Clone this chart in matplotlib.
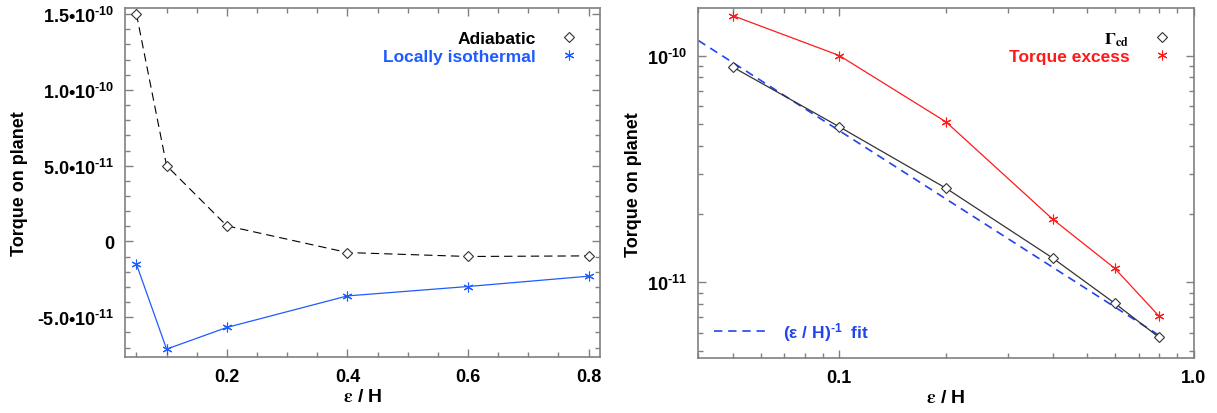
import numpy as np
import matplotlib
matplotlib.use('Agg')
import matplotlib.pyplot as plt
from matplotlib.lines import Line2D
from matplotlib.ticker import FixedLocator, NullFormatter

plt.rcParams['font.family'] = ['Liberation Sans', 'DejaVu Sans']
plt.rcParams['font.weight'] = 'bold'
plt.rcParams['mathtext.fontset'] = 'custom'
plt.rcParams['mathtext.rm'] = 'Liberation Sans:bold'
plt.rcParams['mathtext.bf'] = 'Liberation Sans:bold'
plt.rcParams['mathtext.it'] = 'Liberation Sans:bold:italic'
plt.rcParams['mathtext.default'] = 'rm'

# data
eps = [0.05, 0.1, 0.2, 0.4, 0.6, 0.8]
adiabatic = [1.50e-10, 5.0e-11, 1.03e-11, -0.73e-11, -0.99e-11, -0.95e-11]
isothermal = [-1.5e-11, -7.1e-11, -5.67e-11, -3.59e-11, -2.97e-11, -2.29e-11]

gamma_cd = [8.9e-11, 4.85e-11, 2.6e-11, 1.28e-11, 8.07e-12, 5.71e-12]
torque_excess = [1.5e-10, 1.0e-10, 5.1e-11, 1.9e-11, 1.15e-11, 7.08e-12]
fit_x = [0.04, 0.8]
fit_y = [1.165e-10, 5.83e-12]

left_xticks = [0.2, 0.4, 0.6, 0.8]
left_xlabels = ['0.2', '0.4', '0.6', '0.8']
left_yticks = [1.5e-10, 1.0e-10, 5.0e-11, 0, -5.0e-11]
left_ylabels = [r'1.5•10$^{\text{-10}}$', r'1.0•10$^{\text{-10}}$', r'5.0•10$^{\text{-11}}$',
                '0', r'-5.0•10$^{\text{-11}}$']
right_xticks = [0.1, 1.0]
right_xlabels = ['0.1', '1.0']
right_yticks = [1e-10, 1e-11]
right_ylabels = [r'10$^{\text{-10}}$', r'10$^{\text{-11}}$']

blue = '#1f5cff'
red = '#ff1a1a'
fitblue = '#2244ee'
frame = '#808080'
asterisk = (6, 2, 0)

W, H = 1217, 414
fig = plt.figure(figsize=(W / 100, H / 100), dpi=100)
ax1 = fig.add_axes([125 / W, 1 - 357.7 / H, (600 - 125) / W, (357.7 - 9.3) / H])
ax2 = fig.add_axes([698.3 / W, 1 - 359.3 / H, (1193.5 - 698.3) / W, (359.3 - 9) / H])


def style_axes(ax):
    for s in ax.spines.values():
        s.set_color(frame)
        s.set_linewidth(1.2)
    ax.tick_params(which='both', direction='in', top=True, right=True,
                   color=frame, width=1.0, labelsize=13, pad=8)
    ax.tick_params(which='major', length=6)
    ax.tick_params(which='minor', length=3.5)
    for lab in ax.get_xticklabels() + ax.get_yticklabels():
        lab.set_fontweight('bold')


# left panel
ax1.plot(eps, adiabatic, color='black', lw=0.8, dashes=(7.5, 4.5),
         marker='D', markersize=5, mfc='white', mec='#333333', mew=0.8)
ax1.plot(eps, isothermal, color=blue, lw=0.9,
         marker=asterisk, markersize=7, mec=blue, mew=0.8)
ax1.set_xlim(0.031, 0.819)
ax1.set_ylim(-7.6e-11, 1.538e-10)
ax1.set_xticks(left_xticks)
ax1.set_xticklabels(left_xlabels)
ax1.xaxis.set_minor_locator(FixedLocator(np.arange(0.05, 0.82, 0.05)))
ax1.set_yticks(left_yticks)
ax1.set_yticklabels(left_ylabels)
ax1.yaxis.set_minor_locator(FixedLocator(np.arange(-7e-11, 1.54e-10, 1e-11)))
style_axes(ax1)
ax1.set_ylabel('Torque on planet', fontsize=13, fontweight='bold', labelpad=6)
xl = ax1.set_xlabel(r'$\mathrm{\varepsilon}$ / H', fontsize=14, fontweight='bold', labelpad=2)
xl.set_math_fontfamily('stix')

h1 = [Line2D([], [], ls='none', marker='D', markersize=5, mfc='white', mec='#333333', mew=0.8),
      Line2D([], [], ls='none', marker=asterisk, markersize=7, mec=blue, mew=0.8)]
leg1 = ax1.legend(h1, ['Adiabatic', 'Locally isothermal'], loc='upper right',
                  frameon=False, markerfirst=False, handlelength=1.0,
                  labelcolor=['black', blue], prop={'size': 12.5, 'weight': 'bold'},
                  borderaxespad=0.9, labelspacing=0.15, handletextpad=1.4)

# right panel
ax2.plot(fit_x, fit_y, color=fitblue, lw=1.2, dashes=(5, 3.5))
ax2.plot(eps, gamma_cd, color='#333333', lw=0.9,
         marker='D', markersize=5, mfc='white', mec='#333333', mew=0.8)
ax2.plot(eps, torque_excess, color=red, lw=0.9,
         marker=asterisk, markersize=7, mec=red, mew=0.8)
ax2.set_xscale('log')
ax2.set_yscale('log')
ax2.set_xlim(0.04, 1.0)
ax2.set_ylim(4.62e-12, 1.62e-10)
ax2.set_xticks(right_xticks)
ax2.set_xticklabels(right_xlabels)
ax2.xaxis.set_minor_locator(FixedLocator([0.04, 0.05, 0.06, 0.07, 0.08, 0.09,
                                          0.2, 0.3, 0.4, 0.5, 0.6, 0.7, 0.8, 0.9]))
ax2.xaxis.set_minor_formatter(NullFormatter())
ax2.set_yticks(right_yticks)
ax2.set_yticklabels(right_ylabels)
ax2.yaxis.set_minor_locator(FixedLocator([5e-12, 6e-12, 7e-12, 8e-12, 9e-12,
                                          2e-11, 3e-11, 4e-11, 5e-11, 6e-11,
                                          7e-11, 8e-11, 9e-11]))
ax2.yaxis.set_minor_formatter(NullFormatter())
style_axes(ax2)
ax2.set_ylabel('Torque on planet', fontsize=13, fontweight='bold', labelpad=4)
xl2 = ax2.set_xlabel(r'$\mathrm{\varepsilon}$ / H', fontsize=14, fontweight='bold', labelpad=2)
xl2.set_math_fontfamily('stix')

h2 = [Line2D([], [], ls='none', marker='D', markersize=5, mfc='white', mec='#333333', mew=0.8),
      Line2D([], [], ls='none', marker=asterisk, markersize=7, mec=red, mew=0.8)]
leg2 = ax2.legend(h2, [r'$\Gamma_{\mathbf{cd}}$', 'Torque excess'], loc='upper right',
                  frameon=False, markerfirst=False, handlelength=1.0,
                  labelcolor=['black', red], prop={'size': 12.5, 'weight': 'bold'},
                  borderaxespad=0.9, labelspacing=0.05, handletextpad=1.4)
leg2.get_texts()[0].set_math_fontfamily('stix')

h3 = [Line2D([], [], color=fitblue, lw=1.2, dashes=(5, 3.5))]
leg3 = ax2.legend(h3, [r'(ε / H)$^{\text{-1}}$  fit'], loc='lower left',
                  frameon=False, handlelength=3.0, labelcolor=[fitblue],
                  prop={'size': 12.5, 'weight': 'bold'}, borderaxespad=0.5,
                  handletextpad=1.0)
ax2.add_artist(leg2)

fig.savefig('out.png', dpi=100)
